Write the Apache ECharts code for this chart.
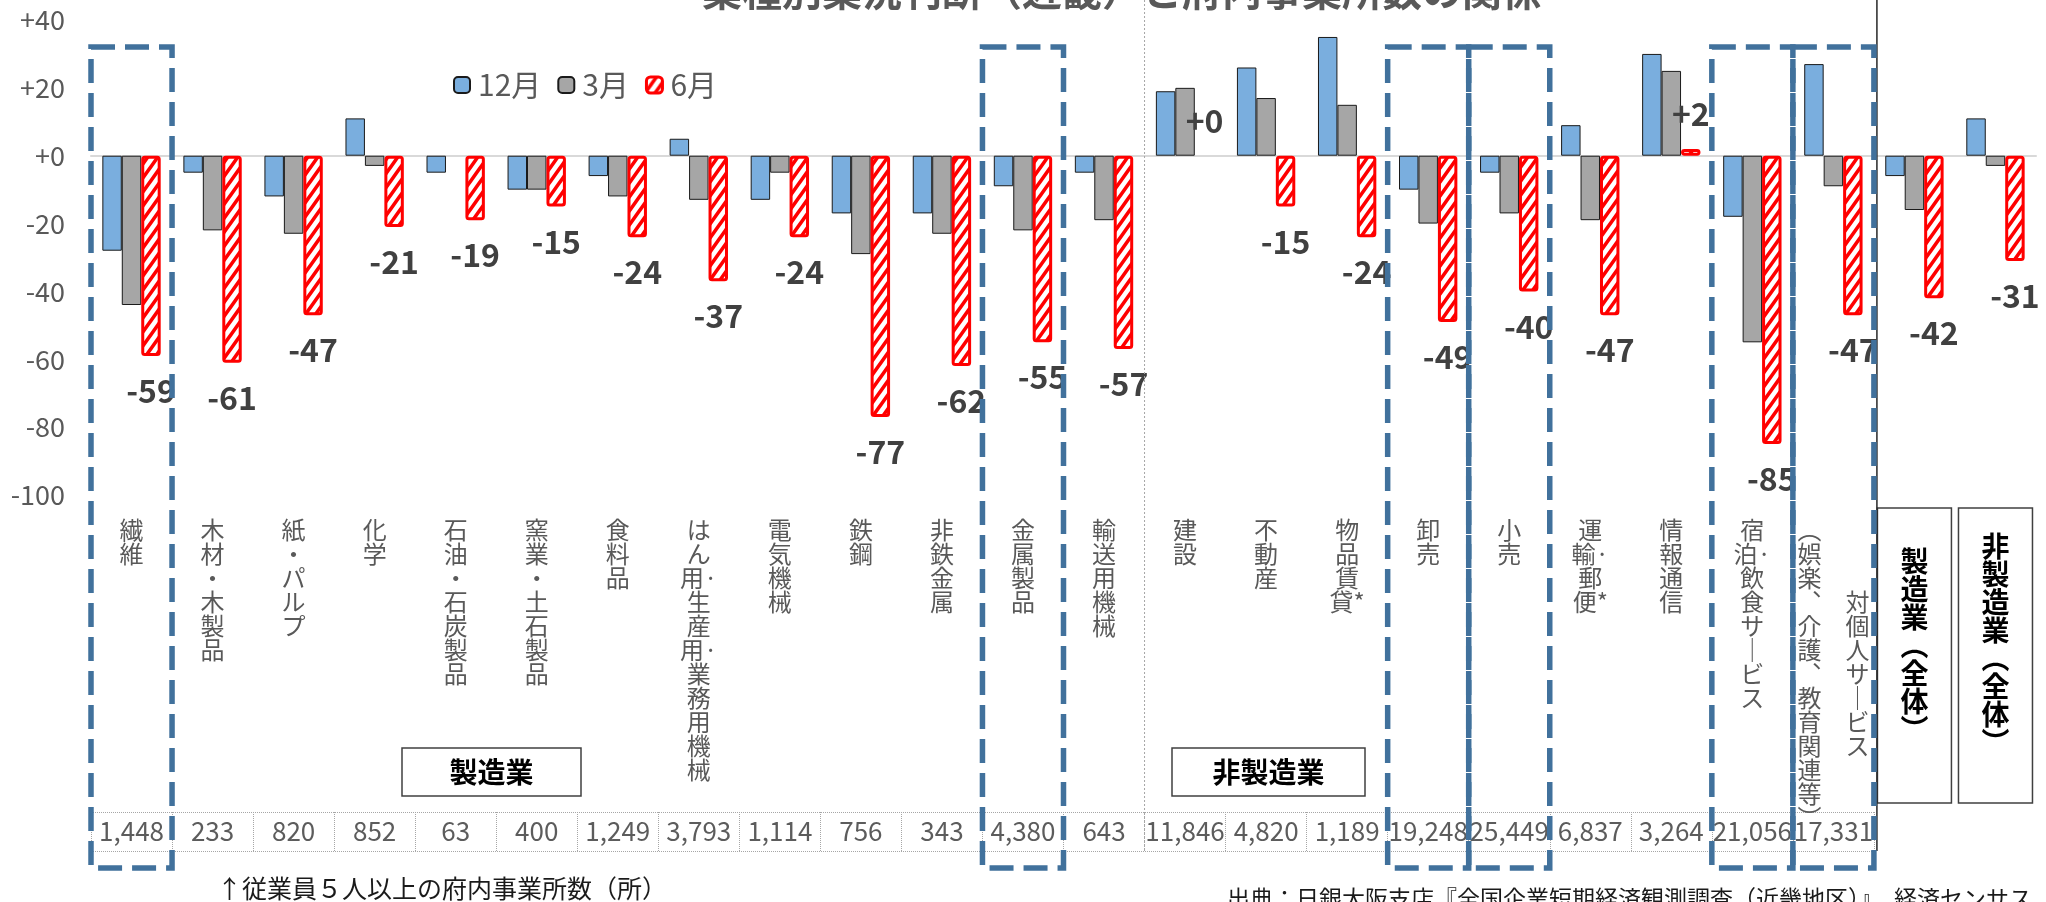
<!DOCTYPE html>
<html><head><meta charset="utf-8">
<script src="https://cdn.jsdelivr.net/npm/echarts@6/dist/echarts.min.js"></script>
<style>html,body{margin:0;padding:0;background:#fff}#c{width:2046px;height:902px}</style>
</head><body><div id="c"></div>
<script>
// ---- data ----
const categories = ['繊維','木材・木製品','紙・パルプ','化学','石油・石炭製品','窯業・土石製品','食料品','はん用·生産用·業務用機械','電気機械','鉄鋼','非鉄金属','金属製品','輸送用機械','建設','不動産','物品賃貸*','卸売','小売','運輸·郵便*','情報通信','宿泊·飲食サービス','対個人サービス（娯楽、介護、教育関連等）','製造業（全体）','非製造業（全体）'];
const seriesNames = ['12月','3月','6月'];
const dec = [-28,-5,-12,11,-5,-10,-6,5,-13,-17,-17,-9,-5,19,26,35,-10,-5,9,30,-18,27,-6,11];
const mar = [-44,-22,-23,-3,0,-10,-12,-13,-5,-29,-23,-22,-19,20,17,15,-20,-17,-19,25,-55,-9,-16,-3];
const jun = [-59,-61,-47,-21,-19,-15,-24,-37,-24,-77,-62,-55,-57,0,-15,-24,-49,-40,-47,2,-85,-47,-42,-31];
const counts = ['1,448','233','820','852','63','400','1,249','3,793','1,114','756','343','4,380','643','11,846','4,820','1,189','19,248','25,449','6,837','3,264','21,056','17,331'];
const yMin = -100, yMax = 40, yInterval = 20;
const highlighted = [0, 11, 16, 17, 20, 21];
const titleText = '業種別業況判断（近畿）と府内事業所数の関係';
const groupLabels = ['製造業', '非製造業'];
const noteCount = '↑従業員５人以上の府内事業所数（所）';
const noteSource = '出典：日銀大阪支店『全国企業短期経済観測調査（近畿地区）』、経済センサス';

// ---- helpers ----
const F = '"Noto Sans CJK JP","Noto Sans",sans-serif';
const VMAP = {'ー':'｜','（':'︵','）':'︶','、':'︑'};
function vChars(s){
  const out=[];
  for (const ch of s){
    const c = VMAP[ch]||ch;
    if ((ch==='·'||ch==='*') && out.length) out[out.length-1]+=ch;
    else out.push(c);
  }
  return out;
}
function vertical(name){
  const p = name.indexOf('（');
  if (p>0 && name.indexOf('全体')<0){
    const right = vChars(name.slice(0,p)), left = vChars(name.slice(p));
    const off = Math.floor((left.length-right.length)/2);
    return left.map((c,i)=> c + '\u3000' + (right[i-off]||'\u3000')).join('\n');
  }
  return vChars(name).join('\n');
}
function hatch(){
  const w=10,h=14, cv=document.createElement('canvas'); cv.width=w; cv.height=h;
  const g=cv.getContext('2d'); g.fillStyle='#fff'; g.fillRect(0,0,w,h);
  g.strokeStyle='#ff0000'; g.lineWidth=3.6;
  g.beginPath();
  for (const dx of [-w,0,w]){ g.moveTo(dx-w, 2*h); g.lineTo(dx+2*w, -h); }
  g.stroke();
  return cv;
}
const zeroless = (arr, base) => arr.map(v => v === 0 ? {value:v, itemStyle:{borderWidth:0}} : v);

const GL=91, GW=1945, GT=20, GH=475;
const catW = GW/categories.length;
const chart = echarts.init(document.getElementById('c'), null, {renderer:'canvas'});
const hideAll = {axisLine:{show:false,onZero:false}, axisTick:{show:false}};
const pattern = {image:hatch(), repeat:'repeat'};
chart.setOption({
  animation:false,
  textStyle:{fontFamily:F},
  legend:{data:[{name:seriesNames[0]},{name:seriesNames[1]},{name:seriesNames[2], itemStyle:{borderColor:'#FF0000', borderWidth:3}}],
    left:448, top:65, itemWidth:16, itemHeight:16, itemGap:16,
    textStyle:{fontSize:30, color:'#595959', padding:[0,0,0,3], fontFamily:F}},
  grid:[{left:GL, top:GT, width:GW, height:GH},
        {left:GL, top:812, width:catW*counts.length, height:39}],
  xAxis:[
    {type:'category', gridIndex:0, data:categories, axisLine:{onZero:true, lineStyle:{color:'#d9d9d9', width:2}}, axisTick:{show:false}, axisLabel:{show:false}},
    Object.assign({type:'category', gridIndex:0, data:categories, position:'bottom',
      axisLabel:{interval:0, margin:23, fontSize:24, lineHeight:24, color:'#595959', fontFamily:F, verticalAlign:'top',
        formatter:(v,i)=> i>=22 ? '' : vertical(v)}}, hideAll),
    Object.assign({type:'category', gridIndex:0, data:categories, position:'bottom',
      axisLabel:{interval:(i)=>i===22, margin:13, fontSize:28, fontWeight:'bold', lineHeight:28, color:'#000', fontFamily:F,
        borderColor:'#404040', borderWidth:1.5, padding:[39,23,60,23], verticalAlign:'top', formatter:v=>vertical(v)}}, hideAll),
    Object.assign({type:'category', gridIndex:0, data:categories, position:'bottom',
      axisLabel:{interval:(i)=>i===23, margin:13, fontSize:28, fontWeight:'bold', lineHeight:28, color:'#000', fontFamily:F,
        borderColor:'#404040', borderWidth:1.5, padding:[24,23,47,23], verticalAlign:'top', formatter:v=>vertical(v)}}, hideAll),
    Object.assign({type:'category', gridIndex:1, data:categories.slice(0,counts.length), position:'bottom',
      axisLabel:{show:false}, splitLine:{show:true, interval:0, lineStyle:{color:'#a6a6a6', type:'dotted', width:1}}}, hideAll)
  ],
  yAxis:[
    {type:'value', gridIndex:0, min:yMin, max:yMax, interval:yInterval, axisLine:{show:false}, axisTick:{show:false}, splitLine:{show:false},
      axisLabel:{fontSize:27, color:'#595959', margin:26, fontFamily:F, formatter:v=> v>=0 ? '+'+v : String(v)}},
    {type:'value', gridIndex:1, min:0, max:1, interval:1, axisLine:{show:false}, axisTick:{show:false}, axisLabel:{show:false},
      splitLine:{show:true, lineStyle:{color:'#a6a6a6', type:'dotted', width:1}}}
  ],
  series:[
    {name:seriesNames[0], type:'bar', xAxisIndex:0, yAxisIndex:0, data:zeroless(dec), barGap:'0%', barCategoryGap:'28%',
      itemStyle:{color:'#7AAEDE', borderColor:'#1a1a1a', borderWidth:1}},
    {name:seriesNames[1], type:'bar', xAxisIndex:0, yAxisIndex:0, data:zeroless(mar), barGap:'0%', barCategoryGap:'28%',
      itemStyle:{color:'#A6A6A6', borderColor:'#1a1a1a', borderWidth:1}},
    {name:seriesNames[2], type:'bar', xAxisIndex:0, yAxisIndex:0, barGap:'0%', barCategoryGap:'28%',
      data:jun.map(v=>({value:v, label:{position: v<0 ? 'bottom' : 'top'}, itemStyle: v===0 ? {borderWidth:0} : undefined})),
      itemStyle:{color:pattern, borderColor:'#FF0000', borderWidth:3, borderRadius:2},
      label:{show:true, distance:19, fontSize:32, fontWeight:'bold', color:'#404040', fontFamily:F,
        formatter:p=> (p.value>=0 ? '+' : '') + p.value}},
    {type:'scatter', xAxisIndex:4, yAxisIndex:1, silent:true, symbolSize:1,
      data:counts.map((c,i)=>[i,0.5]), itemStyle:{color:'rgba(0,0,0,0)'},
      label:{show:true, position:'inside', formatter:p=>counts[p.dataIndex], fontSize:26, color:'#333', fontFamily:F}}
  ]
});

// ---- annotations positioned through the axis scale ----
const cx = i => chart.convertToPixel({xAxisIndex:0}, i);
const bw = cx(1) - cx(0);
const g = [];
g.push({type:'text', x:1122, y:-9, z:10, style:{text:titleText, font:'bold 40px '+F, fill:'#595959', align:'center', verticalAlign:'middle'}});
const sepX = (cx(12)+cx(13))/2;
g.push({type:'line', z:5, shape:{x1:sepX, y1:0, x2:sepX, y2:851}, style:{stroke:'#a6a6a6', lineWidth:1, lineDash:[2,2]}});
const endX = cx(21)+bw/2+3;
g.push({type:'line', z:5, shape:{x1:endX, y1:0, x2:endX, y2:851}, style:{stroke:'#262626', lineWidth:1.5}});
[[402,179,groupLabels[0]],[1172,193,groupLabels[1]]].forEach(([x,w,t])=>{
  g.push({type:'rect', z:5, shape:{x:x, y:748, width:w, height:48}, style:{fill:'#fff', stroke:'#404040', lineWidth:1.5}});
  g.push({type:'text', z:6, x:x+w/2, y:772, style:{text:t, font:'bold 28px '+F, fill:'#000', align:'center', verticalAlign:'middle'}});
});
highlighted.forEach(i=>{
  g.push({type:'rect', z:20, shape:{x:cx(i)-bw/2, y:47, width:bw, height:821},
    style:{fill:'none', stroke:'#41719C', lineWidth:5.5, lineDash:[24,10]}});
});
g.push({type:'text', z:10, x:217, y:888, style:{text:noteCount, font:'25px '+F, fill:'#1a1a1a', align:'left', verticalAlign:'middle'}});
g.push({type:'text', z:10, x:1227, y:898, style:{text:noteSource, font:'23px '+F, fill:'#1a1a1a', align:'left', verticalAlign:'middle'}});
chart.setOption({graphic:g});
</script></body></html>
